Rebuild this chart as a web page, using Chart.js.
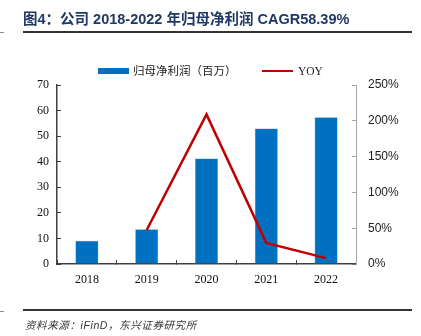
<!DOCTYPE html>
<html>
<head>
<meta charset="utf-8">
<script src="https://cdn.jsdelivr.net/npm/chart.js@4"></script>
<style>
  body { margin: 0; background: #fff; }
  #wrap { position: relative; width: 421px; height: 336px; overflow: hidden; }
  #chart { position: absolute; left: 0; top: 0; }
  .title { position: absolute; left: 23px; top: 9px; font: bold 14.5px "Liberation Sans", "Noto Sans CJK SC", sans-serif; color: #1F3864; white-space: nowrap; line-height: 20px; }
  .rule { position: absolute; height: 2px; background: #333; }
  .stub { position: absolute; height: 1px; background: #888; }
  .legend { position: absolute; top: 62px; font: 11.5px "Liberation Serif", "Noto Sans CJK SC", serif; color: #222; line-height: 18px; white-space: nowrap; }
  .source { position: absolute; left: 25px; top: 317px; font: italic 10.5px "Liberation Sans", "Noto Sans CJK SC", sans-serif; color: #333; white-space: nowrap; letter-spacing: 0.6px; }
</style>
</head>
<body>
<div id="wrap">
  <canvas id="chart" width="421" height="336"></canvas>
  <div class="title">图4：公司 2018-2022 年归母净利润 CAGR58.39%</div>
  <div class="rule" style="left:23px;top:31px;width:389px;"></div>
  <div class="stub" style="left:0;top:32px;width:4px;"></div>

  <div style="position:absolute;left:98px;top:68px;width:31px;height:6px;background:#0070C0;"></div>
  <div class="legend" style="left:133px;">归母净利润（百万）</div>
  <div style="position:absolute;left:262px;top:70px;width:31px;height:2px;background:#C00000;"></div>
  <div class="legend" style="left:298px;">YOY</div>

  <div class="rule" style="left:23px;top:309px;width:389px;"></div>
  <div class="stub" style="left:0;top:311px;width:4px;"></div>
  <div class="source">资料来源：iFinD，东兴证券研究所</div>
</div>
<script>
// data
const years = ['2018', '2019', '2020', '2021', '2022'];
const netProfit = [9.1, 13.6, 41.3, 53.0, 57.4];      // 百万
const yoy = [null, 47.5, 209, 29.5, 8.2];            // %
const leftMax = 70, leftStep = 10;
const rightMax = 250, rightStep = 50;

new Chart(document.getElementById('chart').getContext('2d'), {
    type: 'bar',
    data: {
        labels: years,
        datasets: [{
            label: '归母净利润（百万）',
            data: netProfit,
            backgroundColor: '#0070C0',
            borderColor: '#5B9BD5',
            borderWidth: 0.5,
            barPercentage: 0.385,
            categoryPercentage: 1,
            yAxisID: 'y',
            order: 1
        }, {
            type: 'line',
            label: 'YOY',
            data: yoy,
            borderColor: '#C00000',
            borderWidth: 2.5,
            pointRadius: 0,
            tension: 0,
            fill: false,
            yAxisID: 'y1',
            order: 0
        }]
    },
    options: {
        responsive: false,
        animation: false,
        layout: { padding: { top: 85, left: 0, right: 0, bottom: 0 } },
        plugins: { legend: { display: false }, tooltip: { enabled: false } },
        scales: {
            x: {
                offset: true,
                grid: { offset: true, drawOnChartArea: false, tickLength: -4, color: '#404040', lineWidth: 1 },
                border: { color: '#404040', width: 1.5 },
                ticks: { font: { family: 'Liberation Serif', size: 12 }, color: '#111', padding: 13, maxRotation: 0 },
                afterFit: s => { s.height = 72; }
            },
            y: {
                position: 'left',
                min: 0, max: leftMax,
                grid: { drawOnChartArea: false, tickLength: -4, color: '#404040' },
                border: { color: '#404040', width: 1.5 },
                ticks: { stepSize: leftStep, font: { family: 'Liberation Serif', size: 12 }, color: '#111', padding: 12 },
                afterFit: s => { s.width = 57; }
            },
            y1: {
                position: 'right',
                min: 0, max: rightMax,
                grid: { drawOnChartArea: false, tickLength: -4, color: '#A6A6A6' },
                border: { color: '#A6A6A6', width: 1 },
                ticks: { stepSize: rightStep, font: { family: 'Liberation Sans', size: 12 }, color: '#222', padding: 16,
                         callback: v => v + '%' },
                afterFit: s => { s.width = 65; }
            }
        }
    }
});
</script>
</body>
</html>
